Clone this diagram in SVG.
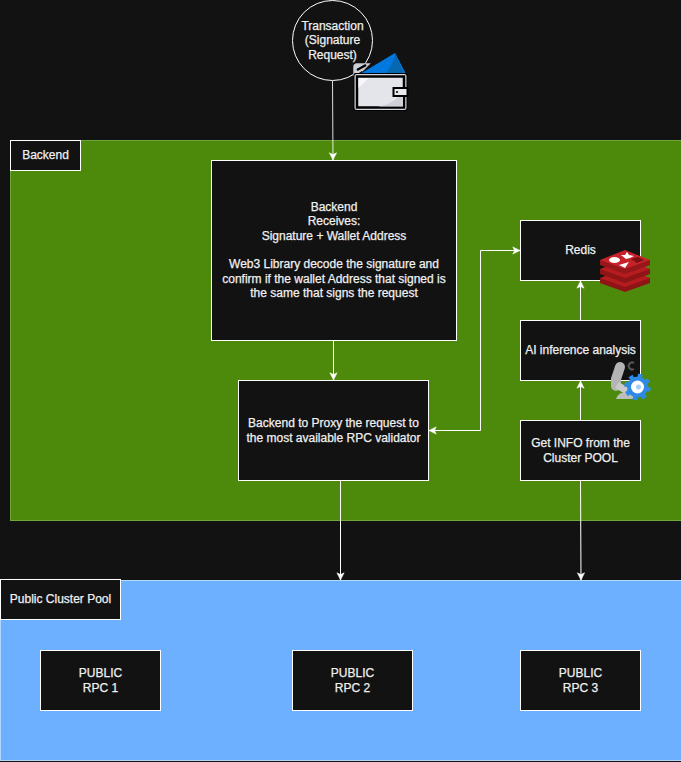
<svg xmlns="http://www.w3.org/2000/svg" width="681" height="762" viewBox="0 0 681 762">
<style>
.n{fill:#121212;stroke:#fff;stroke-width:1}
.t{font-family:"Liberation Sans",Arial,sans-serif;font-size:12px;fill:#f0f0f0;stroke:#f0f0f0;stroke-width:.25;text-anchor:middle}
.c{fill:none;stroke:#fff;stroke-width:1}
.side{fill:#8e1416}
.top{fill:#b51c20}
</style>
<defs>
<marker id="e" markerUnits="userSpaceOnUse" viewBox="0 0 10 10" refX="9" refY="5" markerWidth="9" markerHeight="9" orient="auto-start-reverse"><path d="M1 1L9 5L1 9L3 5Z" fill="#fff" stroke="#fff" stroke-width="0.6"/></marker>
</defs>
<rect width="681" height="762" fill="#121212"/>
<g id="backend-lane"><rect x="10.500" y="140.500" width="671" height="380" fill="#4d8a0c" stroke="#6fa53a"/></g>
<g id="pool-lane"><rect x="0.500" y="580.500" width="681" height="180" fill="#6cb0ff" stroke="#b5d6fb"/></g>
<g id="connectors">
<path class="c" d="M332.500 81L333 160" stroke-opacity=".85" marker-end="url(#e)"/>
<path class="c" d="M333.500 341V380" marker-end="url(#e)"/>
<path class="c" d="M429 430.500H480.500V250.500H520" marker-start="url(#e)" marker-end="url(#e)"/>
<path class="c" d="M580.500 320V281" marker-end="url(#e)"/>
<path class="c" d="M580.500 420V381" marker-end="url(#e)"/>
<path class="c" d="M340.500 481V580" marker-end="url(#e)"/>
<path class="c" d="M580.500 481L581 580" marker-end="url(#e)"/>
</g>
<g id="backend-label"><rect class="n" x="10.500" y="140.500" width="70" height="30"/><text class="t" x="45.500" y="159">Backend</text></g>
<g id="transaction"><circle class="n" cx="332.500" cy="40.500" r="40"/><text class="t" x="332.500" y="30">Transaction</text><text class="t" x="332.500" y="44">(Signature</text><text class="t" x="332.500" y="59">Request)</text></g>
<g id="wallet-icon">
<path d="M360 74L395 53L406 74Z" fill="#0078e0"/><path d="M395 53Q394 64 385 74H404Z" fill="#0668b0"/>
<path d="M354 76V67Q354 64 357 64H369L362 71" fill="#cfd0d8" stroke="#c8c9d1" stroke-width="1.500"/>
<path d="M357 70L366 65" stroke="#000" stroke-width="2.500"/>
<rect x="353.500" y="73" width="54" height="38" rx="2" fill="#000"/>
<rect x="354.500" y="74" width="52" height="36" rx="2" fill="#d4d5dd"/>
<rect x="357" y="76.500" width="47" height="31" fill="#e4e5eb" stroke="#000" stroke-width="2.500"/>
<path d="M403 90Q396 104 378 106.500H403Z" fill="#cfd0d9"/>
<path d="M358.500 78H369L358.500 88Z" fill="#f7f7fa"/>
<rect x="393.500" y="88" width="14" height="8" fill="#e8e8ee" stroke="#000" stroke-width="2"/><circle cx="397" cy="92" r="1" fill="#000"/>
</g>
<g id="backend-box"><rect class="n" x="211.500" y="160.500" width="245" height="180"/>
<text class="t" x="334" y="211">Backend</text><text class="t" x="334" y="225">Receives:</text><text class="t" x="334" y="239.500">Signature + Wallet Address</text><text class="t" x="334" y="268">Web3 Library decode the signature and</text><text class="t" x="334" y="282.500">confirm if the wallet Address that signed is</text><text class="t" x="334" y="297">the same that signs the request</text></g>
<g id="proxy"><rect class="n" x="238.500" y="380.500" width="190" height="100"/><text class="t" x="333.500" y="427">Backend to Proxy the request to</text><text class="t" x="333.500" y="442">the most available RPC validator</text></g>
<g id="redis"><rect class="n" x="520.500" y="220.500" width="120" height="60"/><text class="t" x="580.500" y="254">Redis</text>
<g id="redis-icon">
<path class="side" d="M600 278V283L625 292L650 283V278Z"/><path class="top" d="M600 278L625 268L650 278L625 287Z"/>
<path class="side" d="M600 269V274L625 283L650 274V269Z"/><path class="top" d="M600 269L625 259L650 269L625 278Z"/>
<path d="M600 260V265L625 274L650 265V260Z" fill="#96161a"/><path d="M600 260L625 250L650 260L625 269Z" fill="#c6222a"/>
<ellipse cx="614.500" cy="260" rx="5.500" ry="3" fill="#fff"/><path d="M621 255L625 255L627 252L629 255L634 256L630 258L626 259Z" fill="#fff"/><path d="M619 265L629 262L625 268Z" fill="#fff"/><path d="M631 259L638 257L644 260L637 263Z" fill="#7a1014"/>
</g></g>
<g id="ai"><rect class="n" x="520.500" y="320.500" width="120" height="60"/><text class="t" x="580.500" y="354">AI inference analysis</text>
<g id="ai-icon">
<path d="M620 367L616 379V386" fill="none" stroke="#b4b4b4" stroke-width="10" stroke-linecap="round"/>
<path d="M617 385L627 391" stroke="#cacaca" stroke-width="7"/>
<path d="M616 399Q618 392 627 392H636V399Z" fill="#bdbdbd"/>
<path d="M634 363A3.500 3.500 0 1 0 634 369" fill="none" stroke="#555" stroke-width="2"/>
<circle cx="637.500" cy="387" r="10.500" fill="#2f8ae6"/>
<circle cx="637.500" cy="387" r="11.500" fill="none" stroke="#2f8ae6" stroke-width="3.500" stroke-dasharray="4.500 4.530"/>
<circle cx="637.500" cy="387" r="6.500" fill="#fff"/><circle cx="638.500" cy="387" r="2.500" fill="#a5cff5"/>
</g></g>
<g id="info"><rect class="n" x="520.500" y="420.500" width="120" height="60"/><text class="t" x="580.500" y="447">Get INFO from the</text><text class="t" x="580.500" y="462">Cluster POOL</text></g>
<g id="pool-label"><rect class="n" x="0.500" y="579.500" width="120" height="40"/><text class="t" x="60.500" y="603">Public Cluster Pool</text></g>
<g id="rpc1"><rect class="n" x="40.500" y="650.500" width="120" height="60"/><text class="t" x="100.500" y="677">PUBLIC</text><text class="t" x="100.500" y="692">RPC 1</text></g>
<g id="rpc2"><rect class="n" x="292.500" y="650.500" width="120" height="60"/><text class="t" x="352.500" y="677">PUBLIC</text><text class="t" x="352.500" y="692">RPC 2</text></g>
<g id="rpc3"><rect class="n" x="520.500" y="650.500" width="120" height="60"/><text class="t" x="580.500" y="677">PUBLIC</text><text class="t" x="580.500" y="692">RPC 3</text></g>
</svg>
